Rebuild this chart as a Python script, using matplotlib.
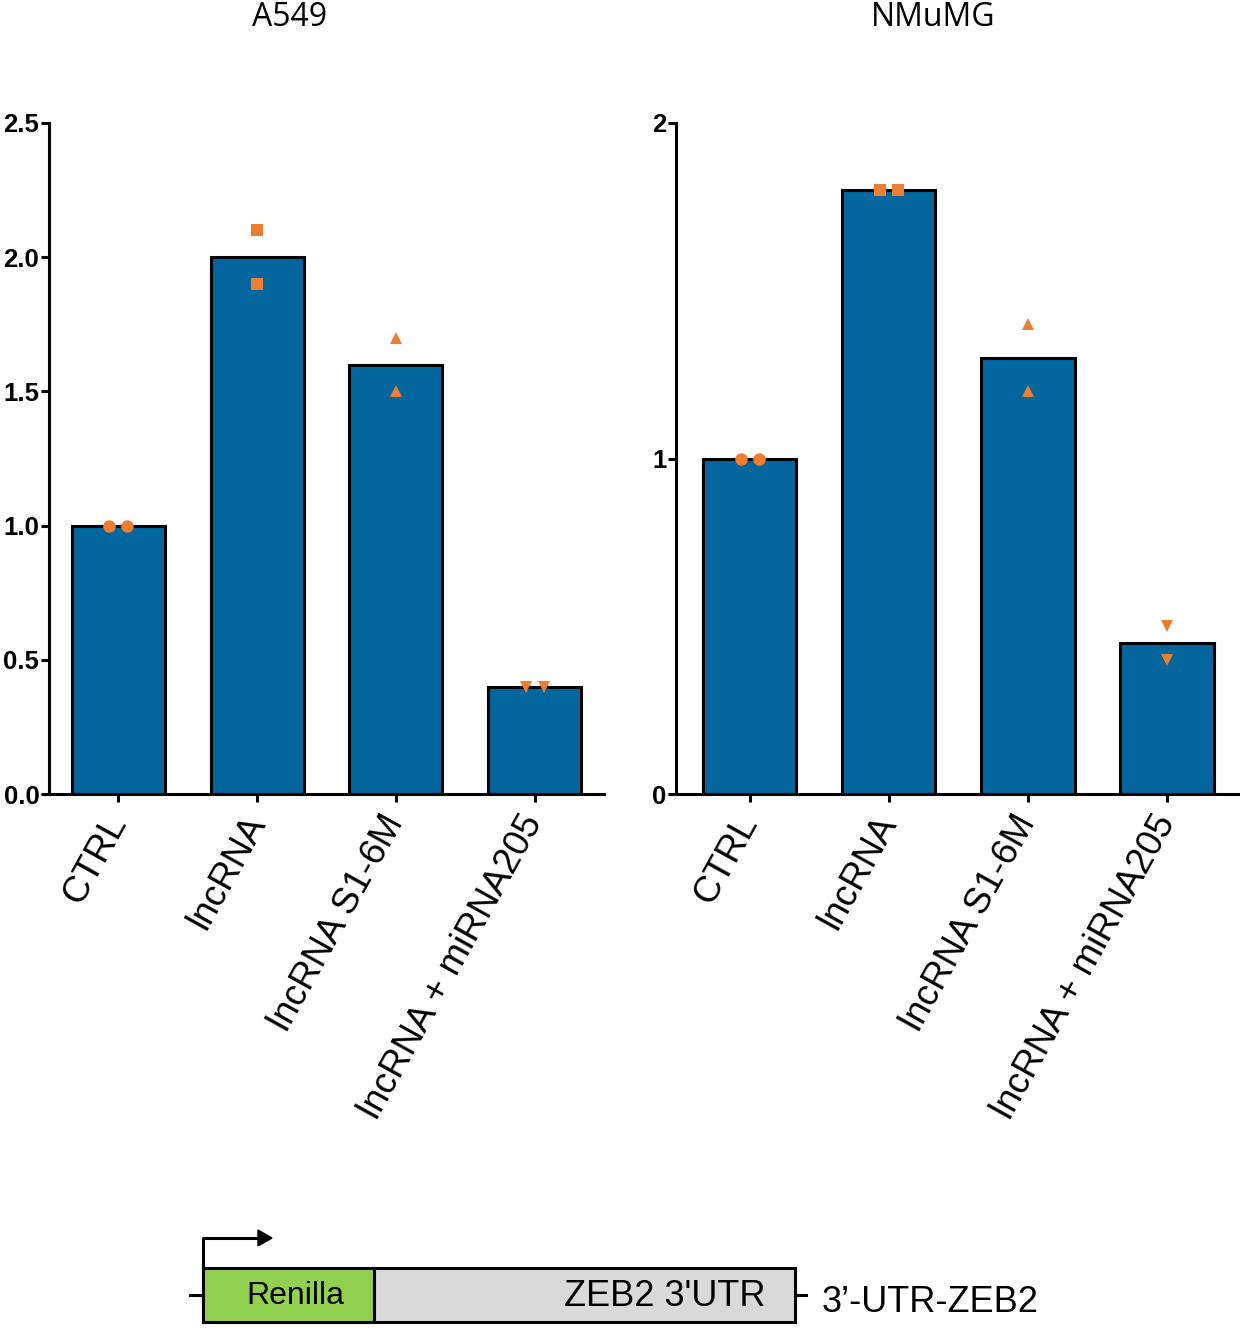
import matplotlib
matplotlib.use("Agg")
import matplotlib.pyplot as plt
from matplotlib.patches import Rectangle, FancyArrow

categories = ["CTRL", "lncRNA", "lncRNA S1-6M", "lncRNA + miRNA205"]

a549_means = [1.0, 2.0, 1.6, 0.4]
a549_rep1 = [1.0, 2.1, 1.7, 0.4]
a549_rep2 = [1.0, 1.9, 1.5, 0.4]

nmumg_means = [1.0, 1.8, 1.3, 0.45]
nmumg_rep1 = [1.0, 1.8, 1.4, 0.5]
nmumg_rep2 = [1.0, 1.8, 1.2, 0.4]

markers = ["o", "s", "^", "v"]
bar_color = "#03669c"
dot_color = "#ed7d31"

fig = plt.figure(figsize=(12.4, 13.28), dpi=100)
plt.rcParams["font.family"] = ["Liberation Sans", "DejaVu Sans"]


def panel(rect, means, rep1, rep2, ylim, yticks, yticklabels, xlim):
    ax = fig.add_axes(rect)
    x = list(range(len(categories)))
    ax.bar(x, means, width=0.67, color=bar_color, edgecolor="black",
           linewidth=2.2, zorder=2)
    for i in x:
        # identical replicates are drawn side by side, as in Prism
        off = 0.065 if rep1[i] == rep2[i] else 0.0
        ax.plot([i - off, i + off], [rep1[i], rep2[i]], linestyle="none",
                marker=markers[i], markersize=9, color=dot_color,
                markeredgewidth=0, zorder=3, clip_on=False)
    ax.set_xlim(*xlim)
    ax.set_ylim(*ylim)
    ax.set_yticks(yticks)
    ax.set_yticklabels(yticklabels, fontsize=18.5, fontweight="bold")
    ax.set_xticks(x)
    ax.set_xticklabels(categories, rotation=61, ha="right", va="center",
                       rotation_mode="anchor", fontsize=26.5)
    ax.spines["top"].set_visible(False)
    ax.spines["right"].set_visible(False)
    for s in ["left", "bottom"]:
        ax.spines[s].set_linewidth(2.2)
    ax.tick_params(axis="y", length=6, width=2.2, pad=1)
    ax.tick_params(axis="x", length=6, width=2.2, pad=11)
    return ax


panel([49 / 1240, 534 / 1328, 555 / 1240, 671 / 1328],
      a549_means, a549_rep1, a549_rep2, (0, 2.5),
      [0, 0.5, 1.0, 1.5, 2.0, 2.5], ["0.0", "0.5", "1.0", "1.5", "2.0", "2.5"],
      (-0.5, 3.5))
panel([676 / 1240, 534 / 1328, 562 / 1240, 671 / 1328],
      nmumg_means, nmumg_rep1, nmumg_rep2, (0, 2),
      [0, 1, 2], ["0", "1", "2"], (-0.53, 3.51))

fig.text(290 / 1240, 1 - 17 / 1328, "A549", ha="center", va="center",
         fontsize=23, family="Open Sans")
fig.text(933 / 1240, 1 - 17 / 1328, "NMuMG", ha="center", va="center",
         fontsize=23, family="Open Sans")

# construct diagram, in pixel coordinates
d = fig.add_axes([0, 0, 1, 1], zorder=-1)
d.set_xlim(0, 1240)
d.set_ylim(1328, 0)
d.axis("off")
d.add_patch(Rectangle((203, 1268), 171, 54, facecolor="#92d050",
                      edgecolor="black", linewidth=2.2))
d.add_patch(Rectangle((374, 1268), 421, 54, facecolor="#d9d9d9",
                      edgecolor="black", linewidth=2.2))
d.plot([190, 203], [1295, 1295], color="black", linewidth=2.2)
d.plot([795, 806], [1295, 1295], color="black", linewidth=2.2)
d.plot([203, 203, 258], [1268, 1238, 1238], color="black", linewidth=2.2)
d.add_patch(FancyArrow(256, 1238, 2, 0, width=0, head_width=16,
                       head_length=14, color="black", length_includes_head=False))
d.text(295, 1296, "Renilla", ha="center", va="center", fontsize=23)
d.text(766, 1296, "ZEB2 3'UTR", ha="right", va="center", fontsize=26)
d.text(822, 1302, "3\u2019-UTR-ZEB2", ha="left", va="center", fontsize=26)

fig.savefig("out.png", dpi=100)
